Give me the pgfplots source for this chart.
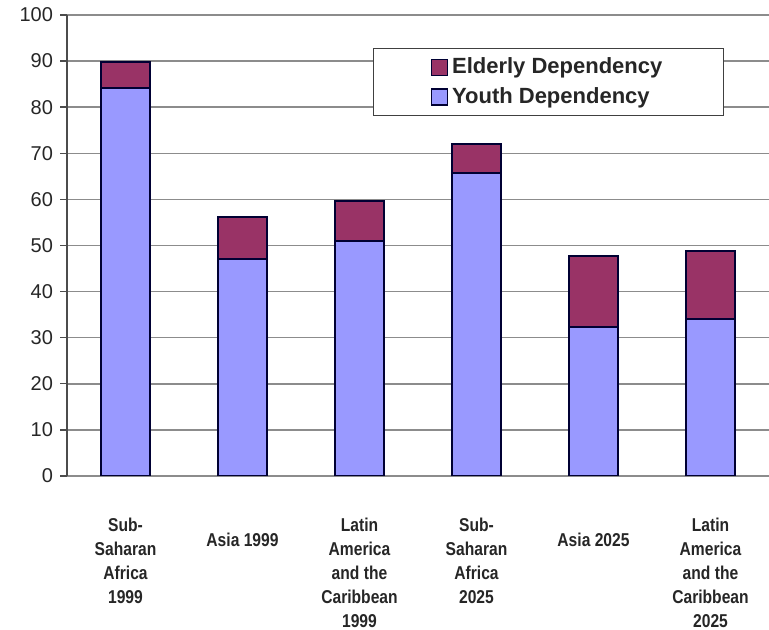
\documentclass[border=0pt]{standalone}
\usepackage{pgfplots}
\pgfplotsset{compat=1.18}
\usepackage{fontspec}
\setmainfont{Liberation Sans}
\newfontfamily\catfont{Liberation Sans}[FakeStretch=0.84]
\definecolor{youth}{HTML}{9999FF}
\definecolor{elder}{HTML}{993366}
\definecolor{gridc}{HTML}{8C8C8C}
\begin{document}
\begin{tikzpicture}
\path[use as bounding box] (0pt,0pt) rectangle (384.5pt,315pt);
\begin{axis}[
  at={(33.5pt,77pt)}, anchor=south west,
  scale only axis, width=351pt, height=230.5pt,
  ybar stacked, bar width=24.5pt,
  xmin=-0.5, xmax=5.5, ymin=0, ymax=100,
  ytick={0,10,...,100},
  xtick={0,1,2,3,4,5},
  xticklabels={{Sub-\\Saharan\\Africa\\1999},{\rule{0pt}{14pt}Asia 1999},{Latin\\America\\and the\\Caribbean\\1999},{Sub-\\Saharan\\Africa\\2025},{\rule{0pt}{14pt}Asia 2025},{Latin\\America\\and the\\Caribbean\\2025}},
  xticklabel style={anchor=north, align=center, yshift=-14pt, font=\catfont\bfseries\fontsize{9.3}{12}\selectfont, text=black!85},
  yticklabel style={font=\fontsize{10}{11}\selectfont, text=black!85},
  /pgf/number format/assume math mode=true,
  x tick style={draw=none},
  y tick style={draw=black!70, line width=0.7pt},
  tick align=outside, major tick length=3.5pt,
  axis x line*=bottom, axis y line*=left,
  x axis line style={draw=gridc, line width=0.75pt, -},
  y axis line style={draw=black!70, line width=0.75pt, -},
  ymajorgrids, grid style={draw=gridc, line width=0.75pt},
  legend style={at={(0.436,0.928)}, anchor=north west, draw=black!75, line width=0.6pt,
    font=\bfseries\fontsize{11}{12}\selectfont, text=black!85, inner xsep=28.5pt, inner ysep=2.5pt,
    row sep=1.5pt},
  legend cell align=left,
  reverse legend,
  legend image code/.code={\draw[#1, line width=0.7pt] (0pt,-4pt) rectangle (8pt,4pt);},
]
\addplot[fill=youth, draw=black!80!blue, line width=1pt] coordinates {(0,84.2) (1,47.0) (2,50.9) (3,65.7) (4,32.4) (5,34.0)};
\addlegendentry{Youth Dependency}
\addplot[fill=elder, draw=black!80!blue, line width=1pt] coordinates {(0,5.6) (1,9.2) (2,8.8) (3,6.3) (4,15.3) (5,14.8)};
\addlegendentry{Elderly Dependency}
\end{axis}
\end{tikzpicture}
\end{document}
